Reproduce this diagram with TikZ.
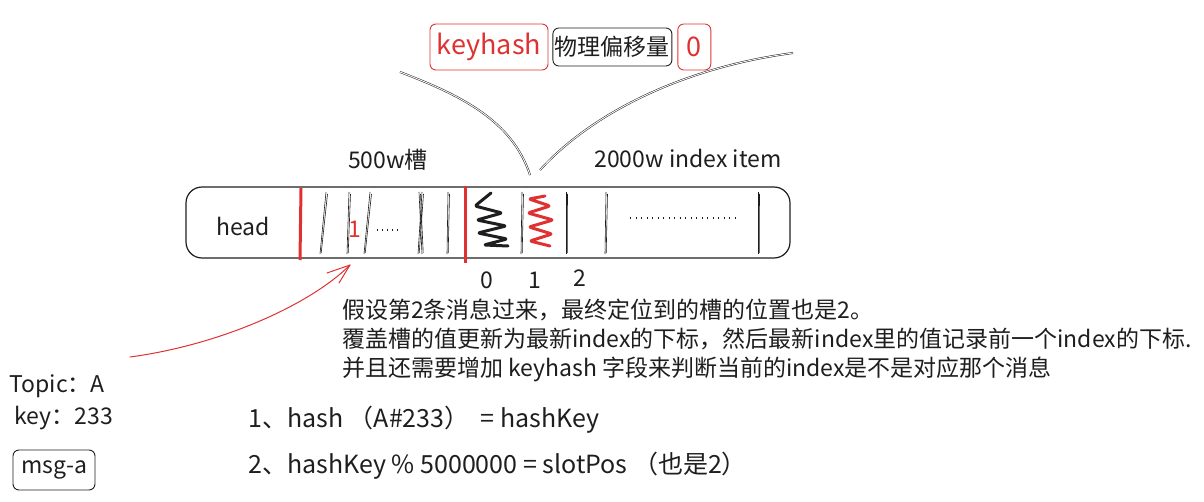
\documentclass[tikz,border=0pt]{standalone}
\usepackage{fontspec}
\setmainfont{Noto Sans CJK SC}
\usetikzlibrary{arrows.meta,calc,positioning}
\definecolor{ink}{RGB}{30,30,30}
\definecolor{inkred}{RGB}{224,49,49}
\newcommand{\fs}[1]{\fontsize{#1}{#1}\selectfont}
\tikzset{tag/.style={draw=ink,rounded corners=6pt,inner sep=2pt,line width=0.9pt,align=center},
  redtag/.style={tag,draw=inkred,text=inkred},
  sketch/.style={draw=ink,double,double distance=0.9pt,line width=0.5pt},
  divider/.style={ink,line width=0.6pt},
  redbar/.style={inkred,line width=3pt},
  scribble/.style={line width=3pt,line cap=round,line join=round,rounded corners=2pt},
  arr/.style={inkred,line width=1pt,line cap=round}}

\begin{document}
\begin{tikzpicture}[x=1pt,y=-1pt,font=\fs{23},text=ink]
\useasboundingbox (0,0) rectangle (1204,502);
% the array: head, 500w slots, 2000w index items
\node[draw=ink,line width=1.2pt,rounded corners=16pt,minimum width=604pt,minimum height=71pt] (array) at (488,222.5) {};
\node (head) at (243,226) {head};
\draw[redbar] (301,188) -- (300,260);
\draw[redbar] (465,186) -- (465,263);
\foreach \xt/\xb in {326/320,349/347,370/364,419/422,422/418,448/447,522/521,566/566,606/605,758/758}{
  \draw[divider] (\xt,192) -- (\xb,254);
  \draw[divider] (\xt+1.5,194) -- (\xb+1.2,253);
}
\node[text=inkred] (one) at (355,229) {1};
\draw[ink,line width=1.2pt,dash pattern=on 1pt off 4pt] (377,230) -- (400,230);
\draw[ink,line width=1.2pt,dash pattern=on 1pt off 4.5pt] (630,218) -- (737,218);
% the two written items
\draw[scribble,ink] (491,193) -- (475,206) -- (502,213) -- (477,220) -- (506,226) -- (478,233) -- (507,239) -- (484,245) -- (508,246);
\draw[scribble,inkred] (545,196) -- (529,199) -- (550,206) -- (528,213) -- (553,220) -- (529,227) -- (552,234) -- (530,241) -- (550,246);
\node (i0) at (487,280) {0};
\node (i1) at (535,280) {1};
\node (i2) at (580,278) {2};
\node (slots) at (388,160) {500w槽};
\node (items) at (688,158) {2000w index item};
% one index item
\node[redtag,font=\fs{27},minimum height=46pt,minimum width=118pt] (keyhash) at (489,47) {keyhash};
\node[tag,minimum height=38pt,right=4pt of keyhash] (offset) {物理偏移量};
\node[redtag,font=\fs{27},minimum height=46pt,minimum width=33pt,right=5pt of offset] (zero) {0};
\coordinate (lt) at (400,72);
\coordinate (lb) at (530,175);
\coordinate (rt) at (793,53);
\coordinate (rb) at (540,170);
\draw[sketch] (lt) .. controls (460,95) and (512,120) .. (lb);
\draw[sketch] (rt) .. controls (680,68) and (590,115) .. (rb);
% the message
\node[anchor=west] (topic) at (6,386) {Topic：A};
\node[anchor=west] (key) at (11,418) {key：233};
\node[tag,minimum width=82pt,minimum height=40pt] (msg) at (54,470) {msg-a};
\coordinate (from) at (130,357);
\coordinate (slot1) at (350,265);
\draw[arr] (from) .. controls (220,345) and (310,305) .. (slot1);
\draw[arr] (slot1) -- ++(-23,8) (slot1) -- ++(-11,18);
% explanation
\node[anchor=base west,inner sep=0] (note1) at (342,319) {假设第2条消息过来，最终定位到的槽的位置也是2。};
\node[anchor=base west,inner sep=0] (note2) at (342,348) {覆盖槽的值更新为最新index的下标，然后最新index里的值记录前一个index的下标.};
\node[anchor=base west,inner sep=0] (note3) at (342,376) {并且还需要增加 keyhash 字段来判断当前的index是不是对应那个消息};
\node[anchor=base west,inner sep=0,font=\fs{25}] (step1) at (248,427) {1、hash （A\#233） \ = hashKey};
\node[anchor=base west,inner sep=0,font=\fs{25}] (step2) at (248,473) {2、hashKey \% 5000000 = slotPos （也是2）};
\end{tikzpicture}
\end{document}
